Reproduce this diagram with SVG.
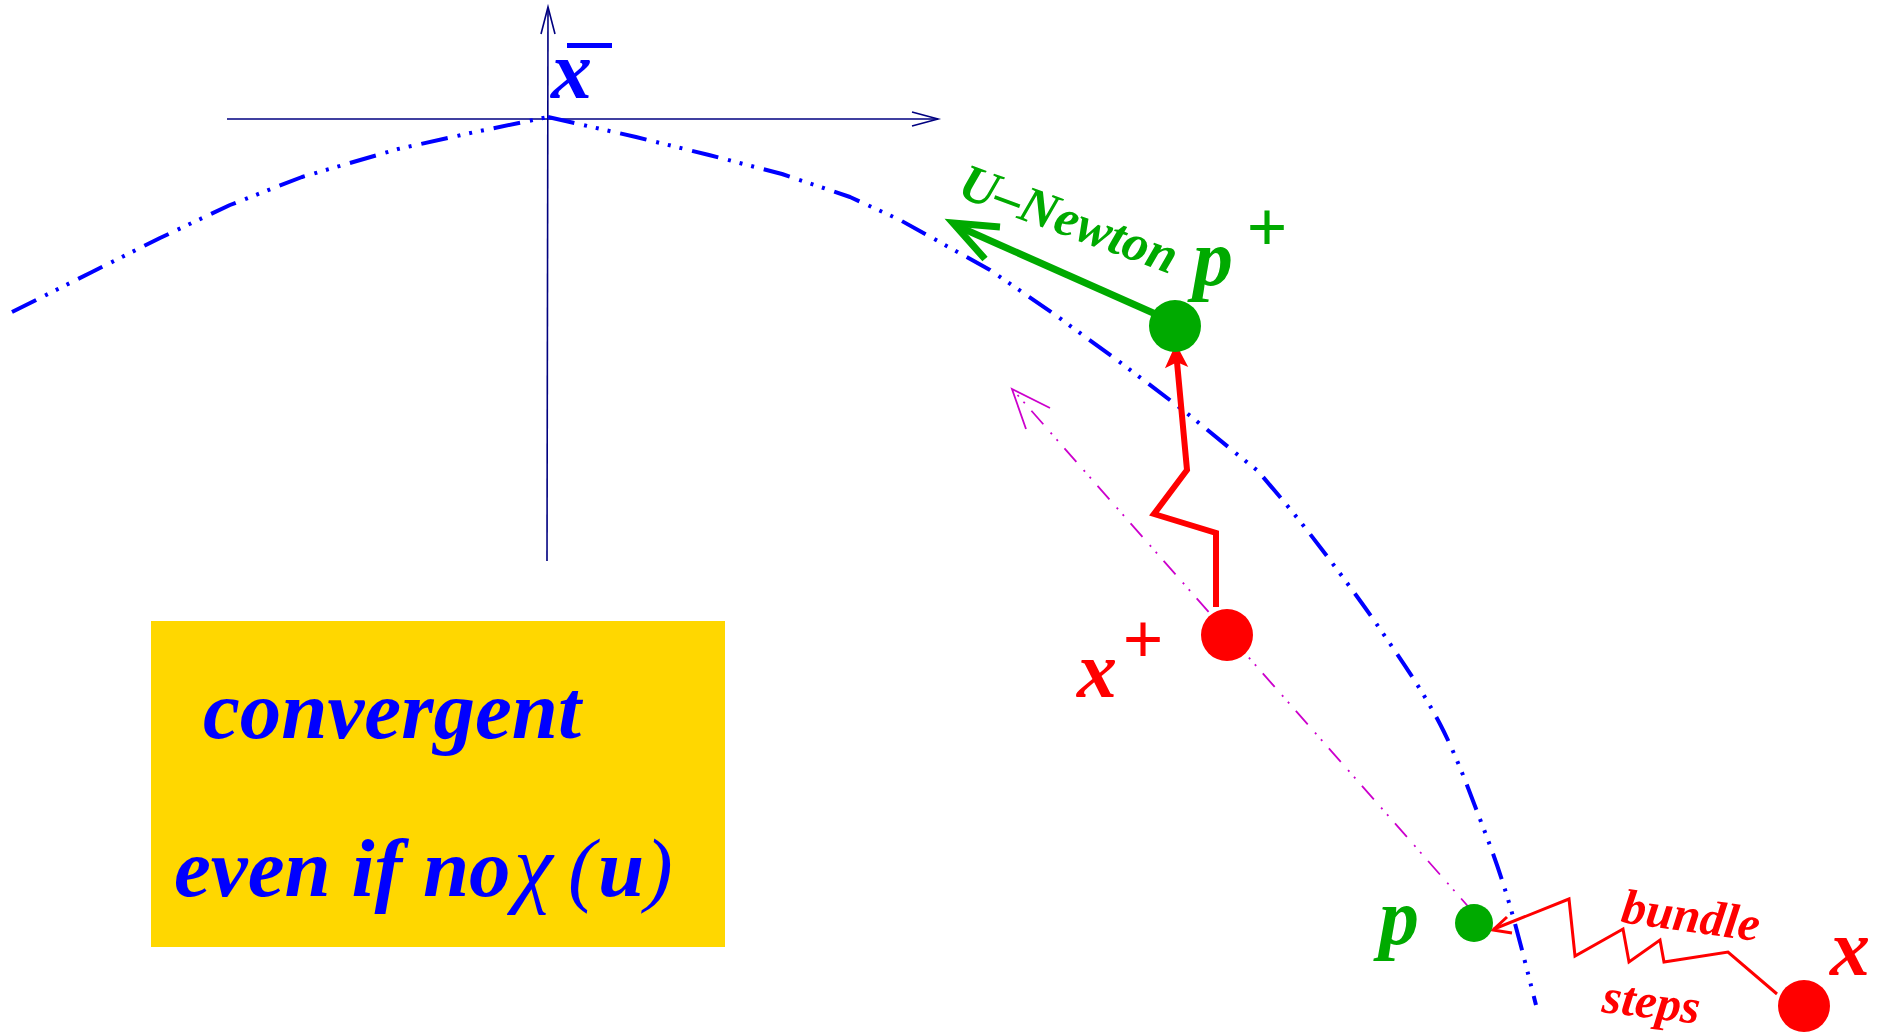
<svg xmlns="http://www.w3.org/2000/svg" width="1885" height="1036" viewBox="0 0 1885 1036">
<style>
.axis{stroke:#000080;stroke-width:1.6;fill:none}
.curve{stroke:#0000FF;stroke-width:4;fill:none;stroke-dasharray:27 10 3 9 3 9 3 10;stroke-linejoin:round}
.lbl{font-family:"Liberation Serif","Times New Roman",serif;font-style:italic;font-weight:bold}
.sym{font-family:"Liberation Serif","Times New Roman",serif;font-style:italic;font-weight:normal}
.plus{font-family:"Liberation Serif","Times New Roman",serif;font-weight:bold;text-anchor:middle}
.blue{fill:#0000FF}
.green{fill:#00AA00}
.red{fill:#FF0000}
</style>
<rect x="0" y="0" width="1885" height="1036" fill="#FFFFFF"/>

<g id="connectors">
  <!-- axes -->
  <line class="axis" x1="227" y1="119" x2="938" y2="119"/>
  <polyline class="axis" points="912,112 938,119 912,126"/>
  <line class="axis" x1="548" y1="8" x2="547" y2="561"/>
  <polyline class="axis" points="541,34 548,7 555,34"/>
  <!-- blue curve -->
  <path class="curve" d="M12,312 L92,272 L160,238 L230,205 L302,177 L398,149 L475,132 L548,117"/>
  <path class="curve" d="M548,117 L636,137 L709,155 L782,174 L850,197 L900,220 L990,270 L1054,314 L1117,360 L1183,410 L1243,459 L1258,471 C1266.7,481.5 1289.7,507.7 1310,534 C1330.3,560.3 1358.3,597.3 1380,629 C1401.7,660.7 1422.8,691 1440,724 C1457.2,757 1471.3,796.7 1483,827 C1494.7,857.3 1501.2,876.3 1510,906 C1518.8,935.7 1531.7,988.5 1536,1005"/>
  <!-- magenta projection line -->
  <line x1="1473" y1="912" x2="1014" y2="391" stroke="#CC00CC" stroke-width="1.8" stroke-dasharray="18 10 2 7 2 11"/>
  <polyline points="1050,408 1012,389 1026,429" fill="none" stroke="#CC00CC" stroke-width="1.8"/>
  <!-- U-Newton arrow -->
  <line x1="1160" y1="316" x2="955" y2="225" stroke="#00AA00" stroke-width="7"/>
  <polyline points="1000,227 953,223 985,259" fill="none" stroke="#00AA00" stroke-width="7" stroke-linejoin="miter"/>
  <!-- red thick path x+ to p+ -->
  <polyline points="1216,607 1216,533 1154,514 1187,470 1177,362" fill="none" stroke="#FF0000" stroke-width="6" stroke-linejoin="miter"/>
  <polygon points="1176,346 1167,366 1177,361 1186,365" fill="#FF0000" stroke="#FF0000" stroke-width="2" stroke-linejoin="miter"/>
  <!-- bundle steps -->
  <polyline points="1777,994 1728,952 1664,962 1660,940 1629,962 1623,929 1575,956 1569,899 1494,929" fill="none" stroke="#FF0000" stroke-width="3"/>
  <polyline points="1507,917 1493,930 1512,933" fill="none" stroke="#FF0000" stroke-width="3"/>
</g>

<g id="xbar">
  <text class="lbl blue" x="551" y="98" font-size="82">x</text>
  <rect class="blue" x="567" y="43" width="45" height="5"/>
</g>

<g id="pplus">
  <circle class="green" cx="1175" cy="326" r="26"/>
  <text class="lbl green" x="1193" y="285" font-size="80">p</text>
  <text class="plus green" x="1267" y="251" font-size="72">+</text>
</g>

<g id="unewton-label">
  <text class="lbl green" font-size="52" transform="translate(956,196) rotate(20)">U–Newton</text>
</g>

<g id="xplus">
  <circle class="red" cx="1227" cy="635" r="26"/>
  <text class="lbl red" x="1077" y="697" font-size="80">x</text>
  <text class="plus red" x="1143" y="663" font-size="72">+</text>
</g>

<g id="p">
  <circle class="green" cx="1474" cy="923" r="19"/>
  <text class="lbl green" x="1379" y="944" font-size="80">p</text>
</g>

<g id="x">
  <circle class="red" cx="1804" cy="1006" r="26"/>
  <text class="lbl red" x="1830" y="975" font-size="80">x</text>
</g>

<g id="bundle-label">
  <text class="lbl red" font-size="49" transform="translate(1620,922) rotate(8)">bundle</text>
  <text class="lbl red" font-size="49" transform="translate(1601,1012) rotate(7)">steps</text>
</g>

<g id="note">
  <rect x="151" y="621" width="574" height="326" fill="#FFD700"/>
  <text class="lbl blue" x="203" y="738" font-size="83">convergent</text>
  <text class="lbl blue" x="174" y="896" font-size="83">even if no</text>
  <text class="sym blue" x="514" y="896" font-size="88">χ</text>
  <text class="sym blue" x="568" y="896" font-size="83">(</text>
  <text class="lbl blue" x="598" y="896" font-size="83">u</text>
  <text class="sym blue" x="645" y="896" font-size="83">)</text>
</g>
</svg>
